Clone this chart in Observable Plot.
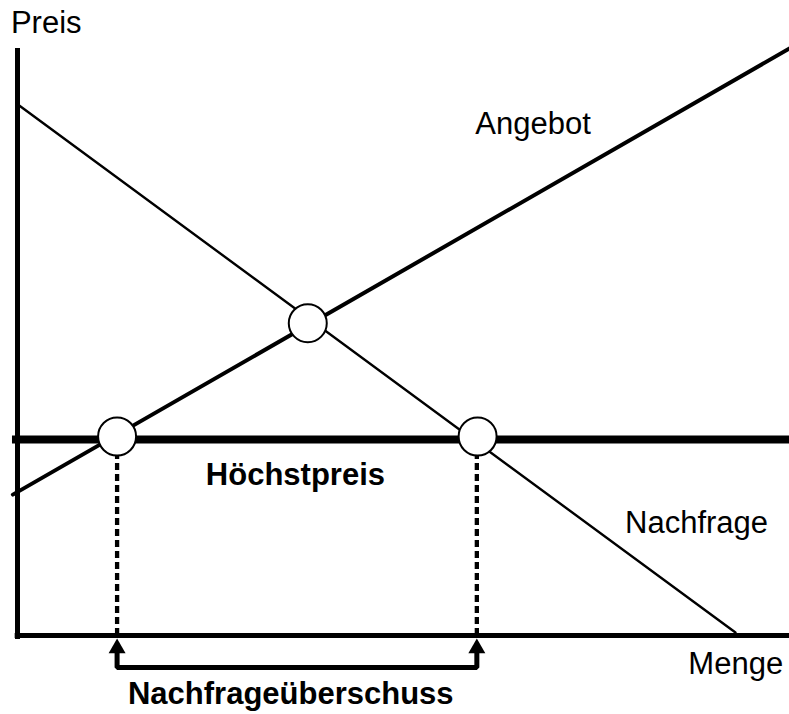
<!DOCTYPE html>
<html>
<head>
<meta charset="utf-8">
<script src="https://cdn.jsdelivr.net/npm/d3@7"></script>
<script src="https://cdn.jsdelivr.net/npm/@observablehq/plot@0.6"></script>
<style>
  html, body { margin: 0; padding: 0; background: #fff; }
  #chart svg { display: block; }
</style>
</head>
<body>
<div id="chart"></div>
<script>
// Values (abstract units: Menge 0–100, Preis 0–100)
const angebotMenge = [-0.6, 100];
const angebotPreis = [24, 100];
const nachfrageMenge = [0, 93];
const nachfragePreis = [90.5, 0.5];
const hoechstpreis = 33.4;
const punkteMenge = [12.9, 37.6, 59.6];
const punktePreis = [33.9, 53.2, 33.9];
const ueberschussMenge = [12.9, 59.5];
const labelTexte = ["Preis", "Angebot", "Höchstpreis", "Nachfrage", "Menge", "Nachfrageüberschuss"];

const angebot = angebotMenge.map((m, i) => ({menge: m, preis: angebotPreis[i]}));
const nachfrage = nachfrageMenge.map((m, i) => ({menge: m, preis: nachfragePreis[i]}));
const punkte = punkteMenge.map((m, i) => ({menge: m, preis: punktePreis[i]}));
const bracket = [
  {menge: ueberschussMenge[0], preis: -2.9},
  {menge: ueberschussMenge[0], preis: -5.45},
  {menge: ueberschussMenge[1], preis: -5.45},
  {menge: ueberschussMenge[1], preis: -2.9}
];

const font = "'Liberation Sans', Arial, Helvetica, sans-serif";
const txt = (i, x, y, anchor, bold) => Plot.text([labelTexte[i]], {
  x: () => x, y: () => y, text: d => d, textAnchor: anchor, lineAnchor: "bottom",
  fontSize: 31, fontWeight: bold ? "bold" : "normal", fill: "black"
});

const chart = Plot.plot({
  width: 789,
  height: 714,
  marginLeft: 17,
  marginRight: 0,
  marginTop: 48,
  marginBottom: 79,
  x: {domain: [0, 100], axis: null},
  y: {domain: [0, 100], axis: null},
  style: {fontFamily: font, background: "white", overflow: "visible"},
  marks: [
    // axes
    Plot.ruleX([0], {y1: -0.7, y2: 100, stroke: "black", strokeWidth: 5}),
    Plot.ruleY([0], {x1: -0.3, x2: 100, stroke: "black", strokeWidth: 5}),
    // price ceiling
    Plot.ruleY([hoechstpreis], {x1: -0.65, x2: 100, stroke: "black", strokeWidth: 8}),
    // supply & demand
    Plot.line(angebot, {x: "menge", y: "preis", stroke: "black", strokeWidth: 4}),
    Plot.line(nachfrage, {x: "menge", y: "preis", stroke: "black", strokeWidth: 2.4}),
    // dashed verticals
    Plot.ruleX(ueberschussMenge, {y1: 0, y2: punktePreis[0], stroke: "black", strokeWidth: 4.3, strokeDasharray: "7,4"}),
    // circles
    Plot.dot(punkte, {x: "menge", y: "preis", r: 19, fill: "white", stroke: "black", strokeWidth: 2}),
    // bracket and arrowheads
    Plot.line(bracket, {x: "menge", y: "preis", stroke: "black", strokeWidth: 5, strokeLinejoin: "miter"}),
    Plot.dot(ueberschussMenge, {x: d => d, y: () => -2.18, symbol: "triangle", r: 6.3, fill: "black"}),
    // labels
    txt(0, -0.85, 102.7, "start", false),
    txt(1, 59.3, 85.5, "start", false),
    txt(2, 36.0, 25.7, "middle", true),
    txt(3, 78.7, 17.5, "start", false),
    txt(4, 86.9, -6.5, "start", false),
    txt(5, 35.4, -11.75, "middle", true)
  ]
});
document.getElementById("chart").appendChild(chart);
</script>
</body>
</html>
